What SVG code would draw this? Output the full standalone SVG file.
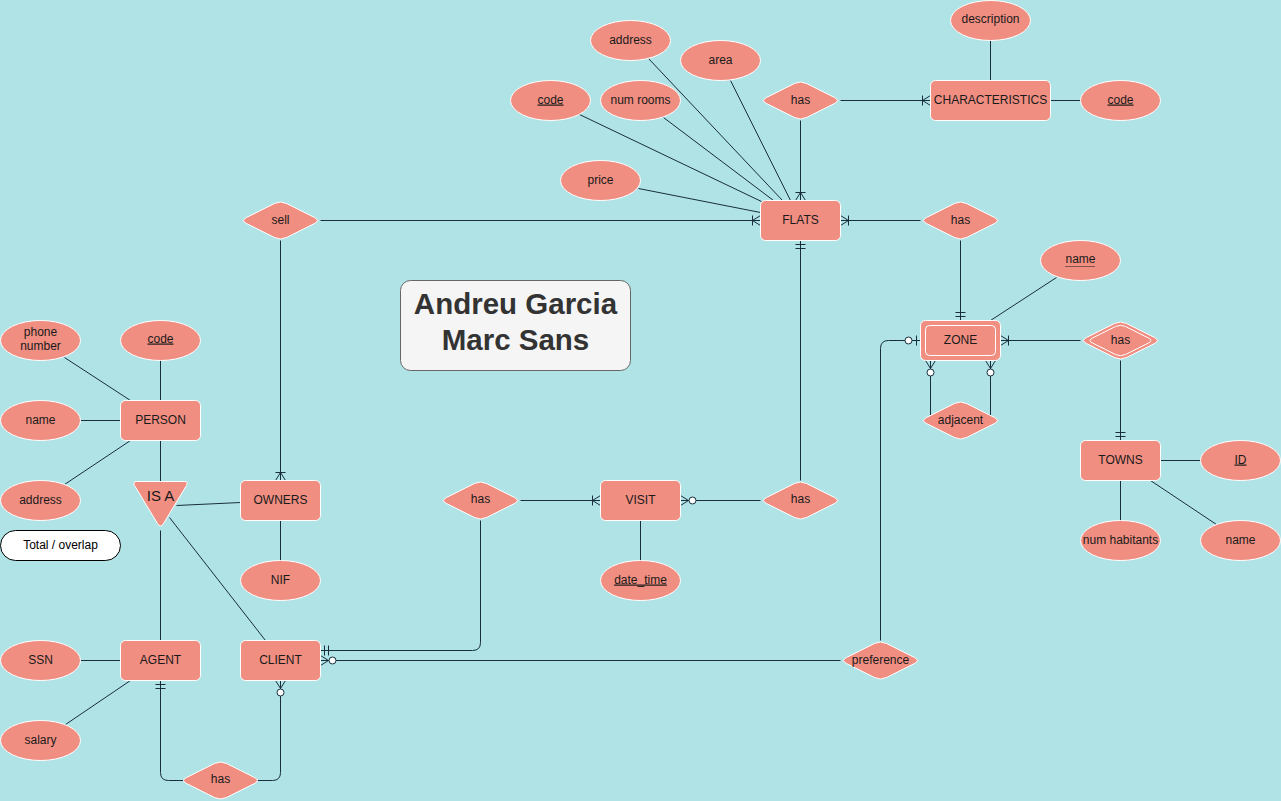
<svg xmlns="http://www.w3.org/2000/svg" xmlns:xlink="http://www.w3.org/1999/xlink" width="1281" height="801" viewBox="0 0 1281 801">
<style>
.bg{fill:#B0E3E6}
.ent,.att,.rel{fill:#F08E81;stroke:#FFFFFF;stroke-width:1}
.inner{fill:none;stroke:#FFFFFF;stroke-width:1}
.ln{fill:none;stroke:#182E3E;stroke-width:1}
.lbl{font-family:"Liberation Sans",Arial,sans-serif;font-size:12px;fill:#1A1A1A;text-anchor:middle}
.ul{text-decoration:underline}
.mk{fill:none;stroke:#182E3E;stroke-width:1}
.mkc{fill:#FFFFFF;stroke:#182E3E;stroke-width:1}
.title{font-family:"Liberation Sans",Arial,sans-serif;font-size:29.5px;font-weight:bold;fill:#333333;text-anchor:middle}
</style>
<defs>
<path id="dia" d="M -34,-3 Q -40,0 -34,3 L -6,17 Q 0,20 6,17 L 34,3 Q 40,0 34,-3 L 6,-17 Q 0,-20 -6,-17 Z"/>
<path id="dia2" d="M -28,-2.5 Q -33,0 -28,2.5 L -5,14 Q 0,16.5 5,14 L 28,2.5 Q 33,0 28,-2.5 L 5,-14 Q 0,-16.5 -5,-14 Z"/>
<marker id="oneMany" markerUnits="userSpaceOnUse" orient="auto" refX="0" refY="0" markerWidth="20" markerHeight="20" overflow="visible">
<path class="mk" d="M -8,0 L 0,-5 M -8,0 L 0,5 M -8,-5 L -8,5"/>
</marker>
<marker id="mandOne" markerUnits="userSpaceOnUse" orient="auto" refX="0" refY="0" markerWidth="20" markerHeight="20" overflow="visible">
<path class="mk" d="M -4,-5 L -4,5 M -8,-5 L -8,5"/>
</marker>
<marker id="zeroMany" markerUnits="userSpaceOnUse" orient="auto" refX="0" refY="0" markerWidth="20" markerHeight="20" overflow="visible">
<path class="mk" d="M -8,0 L 0,-5 M -8,0 L 0,5"/>
<circle class="mkc" cx="-12" cy="0" r="3.5"/>
</marker>
<marker id="zeroOne" markerUnits="userSpaceOnUse" orient="auto" refX="0" refY="0" markerWidth="20" markerHeight="20" overflow="visible">
<path class="mk" d="M -4,-5 L -4,5"/>
<circle class="mkc" cx="-12" cy="0" r="3.5"/>
</marker>
</defs>
<rect class="bg" x="0" y="0" width="1281" height="801"/>
<g transform="translate(0.5,0.5)">
<g id="connectors">
<path class="ln" d="M320,220 H760" marker-end="url(#oneMany)"/>
<path class="ln" d="M280,240 V480" marker-end="url(#oneMany)"/>
<path class="ln" d="M800,120 V200" marker-end="url(#oneMany)"/>
<path class="ln" d="M840,100 H930" marker-end="url(#oneMany)"/>
<path class="ln" d="M920,220 H840" marker-end="url(#oneMany)"/>
<path class="ln" d="M960,240 V320" marker-end="url(#mandOne)"/>
<path class="ln" d="M1080,340 H1000" marker-end="url(#oneMany)"/>
<path class="ln" d="M1120,360 V440" marker-end="url(#mandOne)"/>
<path class="ln" d="M930,415 V360" marker-end="url(#zeroMany)"/>
<path class="ln" d="M990,415 V360" marker-end="url(#zeroMany)"/>
<path class="ln" d="M880,640 V348 Q880,340 888,340 H920" marker-end="url(#zeroOne)"/>
<path class="ln" d="M840,660 H320" marker-end="url(#zeroMany)"/>
<path class="ln" d="M800,480 V240" marker-end="url(#mandOne)"/>
<path class="ln" d="M760,500 H680" marker-end="url(#zeroMany)"/>
<path class="ln" d="M520,500 H600" marker-end="url(#oneMany)"/>
<path class="ln" d="M480,520 V642 Q480,650 472,650 H320" marker-end="url(#mandOne)"/>
<path class="ln" d="M183,780 H168 Q160,780 160,772 V680" marker-end="url(#mandOne)"/>
<path class="ln" d="M257,780 H272 Q280,780 280,772 V680" marker-end="url(#zeroMany)"/>
<path class="ln" d="M648,58 L782,200"/>
<path class="ln" d="M730,80 L790,200"/>
<path class="ln" d="M579,114 L761,201"/>
<path class="ln" d="M663,117 L773,200"/>
<path class="ln" d="M638,188 L760,212"/>
<path class="ln" d="M990,40 V80"/>
<path class="ln" d="M1050,100 H1080"/>
<path class="ln" d="M1056,277 L990,320"/>
<path class="ln" d="M1160,460 H1200"/>
<path class="ln" d="M1120,480 V520"/>
<path class="ln" d="M1150,480 L1216,524"/>
<path class="ln" d="M64,357 L130,400"/>
<path class="ln" d="M160,360 V400"/>
<path class="ln" d="M80,420 H120"/>
<path class="ln" d="M64,484 L130,440"/>
<path class="ln" d="M160,440 V481"/>
<path class="ln" d="M176,505 L240,502"/>
<path class="ln" d="M160,530 V640"/>
<path class="ln" d="M169,517 L265,640"/>
<path class="ln" d="M280,520 V560"/>
<path class="ln" d="M80,660 H120"/>
<path class="ln" d="M130,680 L65,724"/>
<path class="ln" d="M640,520 V560"/>
</g>
<g id="title">
<rect x="400" y="280" width="230" height="90" rx="10" fill="#F5F5F5" stroke="#666666"/>
<text class="title" x="515" y="313">Andreu Garcia</text>
<text class="title" x="515" y="349">Marc Sans</text>
</g>
<g id="FLATS"><rect class="ent" x="760" y="200" width="80" height="40" rx="5"/><text class="lbl" x="800" y="223">FLATS</text></g>
<g id="CHARACTERISTICS"><rect class="ent" x="930" y="80" width="120" height="40" rx="5"/><text class="lbl" x="990" y="103">CHARACTERISTICS</text></g>
<g id="ZONE"><rect class="ent" x="920" y="320" width="80" height="40" rx="5"/><rect class="inner" x="925" y="325" width="70" height="30" rx="4"/><text class="lbl" x="960" y="343">ZONE</text></g>
<g id="TOWNS"><rect class="ent" x="1080" y="440" width="80" height="40" rx="5"/><text class="lbl" x="1120" y="463">TOWNS</text></g>
<g id="PERSON"><rect class="ent" x="120" y="400" width="80" height="40" rx="5"/><text class="lbl" x="160" y="423">PERSON</text></g>
<g id="OWNERS"><rect class="ent" x="240" y="480" width="80" height="40" rx="5"/><text class="lbl" x="280" y="503">OWNERS</text></g>
<g id="AGENT"><rect class="ent" x="120" y="640" width="80" height="40" rx="5"/><text class="lbl" x="160" y="663">AGENT</text></g>
<g id="CLIENT"><rect class="ent" x="240" y="640" width="80" height="40" rx="5"/><text class="lbl" x="280" y="663">CLIENT</text></g>
<g id="VISIT"><rect class="ent" x="600" y="480" width="80" height="40" rx="5"/><text class="lbl" x="640" y="503">VISIT</text></g>
<g id="attr-flats-address"><ellipse class="att" cx="630" cy="40" rx="40" ry="20"/><text class="lbl" x="630" y="43">address</text></g>
<g id="attr-flats-area"><ellipse class="att" cx="720" cy="60" rx="40" ry="20"/><text class="lbl" x="720" y="63">area</text></g>
<g id="attr-flats-code"><ellipse class="att" cx="550" cy="100" rx="40" ry="20"/><text class="lbl ul" x="550" y="103">code</text></g>
<g id="attr-flats-numrooms"><ellipse class="att" cx="640" cy="100" rx="40" ry="20"/><text class="lbl" x="640" y="103">num rooms</text></g>
<g id="attr-flats-price"><ellipse class="att" cx="600" cy="180" rx="40" ry="20"/><text class="lbl" x="600" y="183">price</text></g>
<g id="attr-char-description"><ellipse class="att" cx="990" cy="20" rx="40" ry="20"/><text class="lbl" x="990" y="22">description</text></g>
<g id="attr-char-code"><ellipse class="att" cx="1120" cy="100" rx="40" ry="20"/><text class="lbl ul" x="1120" y="103">code</text></g>
<g id="attr-zone-name"><ellipse class="att" cx="1080" cy="260" rx="40" ry="20"/><text class="lbl" x="1080" y="262">name</text><line x1="1065" y1="266" x2="1095" y2="266" stroke="#1A1A1A" stroke-dasharray="1,1"/></g>
<g id="attr-towns-id"><ellipse class="att" cx="1240" cy="460" rx="40" ry="20"/><text class="lbl ul" x="1240" y="463">ID</text></g>
<g id="attr-towns-numhab"><ellipse class="att" cx="1120" cy="540" rx="40" ry="20"/><text class="lbl" x="1120" y="543">num habitants</text></g>
<g id="attr-towns-name"><ellipse class="att" cx="1240" cy="540" rx="40" ry="20"/><text class="lbl" x="1240" y="543">name</text></g>
<g id="attr-person-phone"><ellipse class="att" cx="40" cy="340" rx="40" ry="20"/><text class="lbl" x="40" y="335">phone</text><text class="lbl" x="40" y="349">number</text></g>
<g id="attr-person-code"><ellipse class="att" cx="160" cy="340" rx="40" ry="20"/><text class="lbl ul" x="160" y="342">code</text></g>
<g id="attr-person-name"><ellipse class="att" cx="40" cy="420" rx="40" ry="20"/><text class="lbl" x="40" y="423">name</text></g>
<g id="attr-person-address"><ellipse class="att" cx="40" cy="500" rx="40" ry="20"/><text class="lbl" x="40" y="503">address</text></g>
<g id="attr-owners-nif"><ellipse class="att" cx="280" cy="580" rx="40" ry="20"/><text class="lbl" x="280" y="583">NIF</text></g>
<g id="attr-visit-datetime"><ellipse class="att" cx="640" cy="580" rx="40" ry="20"/><text class="lbl ul" x="640" y="583">date_time</text></g>
<g id="attr-agent-ssn"><ellipse class="att" cx="40" cy="660" rx="40" ry="20"/><text class="lbl" x="40" y="663">SSN</text></g>
<g id="attr-agent-salary"><ellipse class="att" cx="40" cy="740" rx="40" ry="20"/><text class="lbl" x="40" y="743">salary</text></g>
<g id="rel-has-char"><use class="rel" xlink:href="#dia" href="#dia" x="800" y="100"/><text class="lbl" x="800" y="103">has</text></g>
<g id="rel-sell"><use class="rel" xlink:href="#dia" href="#dia" x="280" y="220"/><text class="lbl" x="280" y="223">sell</text></g>
<g id="rel-has-zone"><use class="rel" xlink:href="#dia" href="#dia" x="960" y="220"/><text class="lbl" x="960" y="223">has</text></g>
<g id="rel-has-towns"><use class="rel" xlink:href="#dia" href="#dia" x="1120" y="340"/><use class="inner" xlink:href="#dia2" href="#dia2" x="1120" y="340"/><text class="lbl" x="1120" y="343">has</text></g>
<g id="rel-adjacent"><use class="rel" xlink:href="#dia" href="#dia" x="960" y="420"/><text class="lbl" x="960" y="423">adjacent</text></g>
<g id="rel-has-visit-client"><use class="rel" xlink:href="#dia" href="#dia" x="480" y="500"/><text class="lbl" x="480" y="502">has</text></g>
<g id="rel-has-visit-flats"><use class="rel" xlink:href="#dia" href="#dia" x="800" y="500"/><text class="lbl" x="800" y="502">has</text></g>
<g id="rel-preference"><use class="rel" xlink:href="#dia" href="#dia" x="880" y="660"/><text class="lbl" x="880" y="663">preference</text></g>
<g id="rel-has-agent-client"><use class="rel" xlink:href="#dia" href="#dia" x="220" y="780"/><text class="lbl" x="220" y="782">has</text></g>
<g id="isa"><path class="ent" d="M136,481 L184,481 Q188,481 186,485 L163,523 Q160,528 157,523 L134,485 Q132,481 136,481 Z"/><text class="lbl" x="160" y="500" style="font-size:15px">IS A</text></g>
<g id="note-total-overlap"><rect x="0" y="530" width="120" height="30" rx="15" fill="#FFFFFF" stroke="#000000"/><text class="lbl" x="60" y="548" style="fill:#000000">Total / overlap</text></g>
</g>
</svg>
